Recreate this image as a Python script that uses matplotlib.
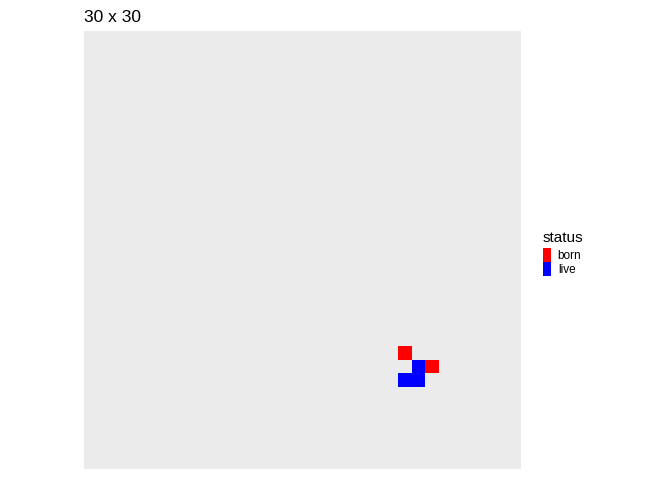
import numpy as np
import matplotlib.pyplot as plt
from matplotlib.colors import ListedColormap
from matplotlib.patches import Patch

plt.rcParams['font.family'] = ['Liberation Sans', 'DejaVu Sans']

# board size and the occupied cells (column, row counted from bottom)
n = 30
status_names = ['born', 'live']
status_cols = ['#FF0000', '#0000FF']
born_x = [23, 25]
born_y = [8, 7]
live_x = [24, 23, 24]
live_y = [7, 6, 6]

grid = np.full((n, n), np.nan)
for x, y in zip(born_x, born_y):
    grid[y - 1, x - 1] = 0
for x, y in zip(live_x, live_y):
    grid[y - 1, x - 1] = 1

fig = plt.figure(figsize=(6.72, 4.8), dpi=100)
ax = fig.add_axes([84 / 672, 1 - 469 / 480, 437 / 672, 438 / 480])
ax.set_facecolor('#EBEBEB')

edges = np.arange(n + 1) + 0.5
ax.pcolormesh(edges, edges, np.ma.masked_invalid(grid),
              cmap=ListedColormap(status_cols), vmin=0, vmax=1)
ax.set_xlim(-0.5, n + 1.5)
ax.set_ylim(-0.5, n + 1.5)
ax.set_xticks([])
ax.set_yticks([])
for s in ax.spines.values():
    s.set_visible(False)

fig.text(84 / 672, 1 - 22 / 480, f'{n} x {n}', fontsize=12.5, ha='left', va='baseline')

# legend
fig.text(543 / 672, 1 - 242 / 480, 'status', fontsize=11, ha='left', va='baseline')
handles = [Patch(facecolor=c, edgecolor='none') for c in status_cols]
leg = fig.legend(handles, status_names, loc='upper left',
                 bbox_to_anchor=(543 / 672, 1 - 248 / 480), frameon=False,
                 borderpad=0, borderaxespad=0, labelspacing=0,
                 handlelength=0.65, handleheight=1.45,
                 handletextpad=0.6, fontsize=8.5)

fig.savefig('out.png', dpi=100)
